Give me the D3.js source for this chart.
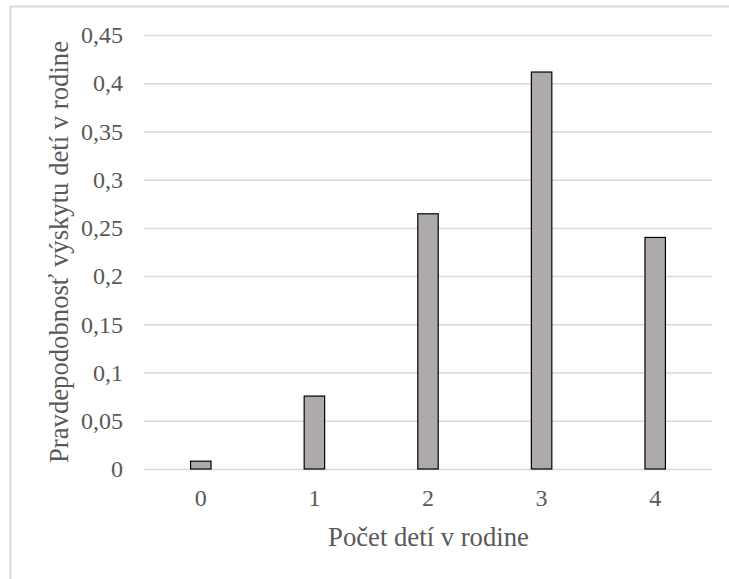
<!DOCTYPE html>
<html>
<head>
<meta charset="utf-8">
<script src="https://cdn.jsdelivr.net/npm/d3@7"></script>
<style>
  html, body { margin: 0; padding: 0; background: #fff; }
  svg { display: block; }
</style>
</head>
<body>
<svg id="chart" width="729" height="579"></svg>
<script>
// Number of children in the family and the probability of each count
const categories = ["0", "1", "2", "3", "4"];
const probabilities = [0.0081, 0.0756, 0.2646, 0.4116, 0.2401];
const yTicks = [0, 0.05, 0.1, 0.15, 0.2, 0.25, 0.3, 0.35, 0.4, 0.45];

const xTitle = "Počet detí v rodine";
const yTitle = "Pravdepodobnosť výskytu detí v rodine";

const serif = "Liberation Serif";
const textColor = "#595959";

const svg = d3.select("#chart");
const plot = { left: 144, right: 712, top: 35, bottom: 469 };

// Chart frame
svg.append("rect")
  .attr("x", 10.5).attr("y", 6.5)
  .attr("width", 740).attr("height", 600)
  .attr("fill", "none")
  .attr("stroke", "#d9d9d9")
  .attr("stroke-width", 2);

const x = d3.scaleBand()
  .domain(categories)
  .range([plot.left, plot.right])
  .paddingInner(0.82)
  .paddingOuter(0.41);

const y = d3.scaleLinear()
  .domain([0, 0.45])
  .range([plot.bottom, plot.top]);

const fmt = v => String(+v.toFixed(2)).replace(".", ",");

// Horizontal gridlines with value labels
const yAxis = d3.axisLeft(y)
  .tickValues(yTicks)
  .tickFormat(fmt)
  .tickSize(-(plot.right - plot.left))
  .tickPadding(21);

const gy = svg.append("g")
  .attr("transform", `translate(${plot.left},0)`)
  .call(yAxis)
  .attr("font-family", serif)
  .attr("font-size", 24);
gy.select(".domain").remove();
gy.selectAll(".tick line").attr("stroke", "#d9d9d9").attr("stroke-width", 1.5);
gy.selectAll(".tick text").attr("fill", textColor);

// Category labels
const xAxis = d3.axisBottom(x).tickSize(0).tickPadding(20);
const gx = svg.append("g")
  .attr("transform", `translate(0,${plot.bottom})`)
  .call(xAxis)
  .attr("font-family", serif)
  .attr("font-size", 24);
gx.select(".domain").remove();
gx.selectAll(".tick text").attr("fill", textColor);

// Bars
svg.append("g")
  .selectAll("rect")
  .data(probabilities)
  .join("rect")
  .attr("x", (d, i) => x(categories[i]))
  .attr("y", d => y(d))
  .attr("width", x.bandwidth())
  .attr("height", d => y(0) - y(d))
  .attr("fill", "#aeaaaa")
  .attr("stroke", "#000")
  .attr("stroke-width", 1.2);

// Axis titles
svg.append("text")
  .attr("x", (plot.left + plot.right) / 2 + 0.5)
  .attr("y", 546)
  .attr("text-anchor", "middle")
  .attr("font-family", serif)
  .attr("font-size", 26.7)
  .attr("fill", textColor)
  .text(xTitle);

svg.append("text")
  .attr("transform", `translate(68,${(plot.top + plot.bottom) / 2}) rotate(-90)`)
  .attr("text-anchor", "middle")
  .attr("font-family", serif)
  .attr("font-size", 26.7)
  .attr("fill", textColor)
  .text(yTitle);
</script>
</body>
</html>
